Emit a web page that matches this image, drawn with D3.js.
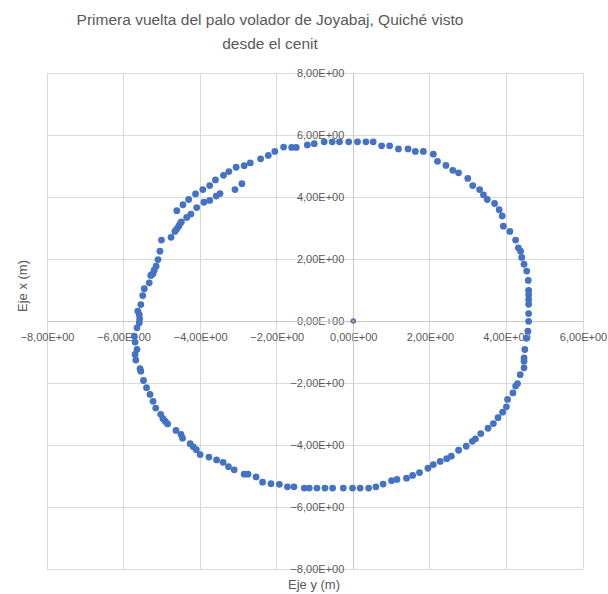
<!DOCTYPE html>
<html><head><meta charset="utf-8">
<script src="https://cdn.jsdelivr.net/npm/d3@7/dist/d3.min.js"></script>
<style>body{margin:0;background:#fff}svg{display:block}</style>
</head><body>
<script>
// Horizontal axis: "Eje y (m)"; vertical axis: "Eje x (m)"
const ejeY = [-5.27,-5.20,-5.15,-5.10,-5.05,-5.01,-4.76,-4.66,-4.61,-4.56,-4.52,-4.49,-4.35,-4.24,-4.09,-3.90,-3.75,-3.58,-3.48,-3.09,-2.91,
-4.61,-4.45,-4.30,-4.12,-3.93,-3.75,-3.60,-3.39,-3.25,-3.06,-2.85,-2.69,-2.42,-2.22,-2.05,-1.82,-1.61,-1.49,-1.20,-1.02,-0.76,-0.55,-0.36,-0.12,0.11,
0.33,0.52,0.74,0.95,1.18,1.43,1.62,1.83,2.09,2.20,2.42,2.60,2.75,2.99,3.12,3.30,3.40,3.50,3.69,3.81,3.89,3.92,4.09,4.24,4.31,4.37,4.40,4.46,4.53,4.57,4.58,4.58,4.58,4.58,4.58,4.58,
4.56,4.52,4.48,4.46,4.46,4.46,4.36,4.29,4.24,4.17,4.03,
4.00,3.90,3.78,3.66,3.52,3.33,3.19,3.11,2.95,2.75,2.56,2.44,2.27,2.09,1.95,1.73,1.55,1.39,1.14,1.00,0.78,0.59,0.40,0.18,-0.02,-0.26,
-0.54,-0.74,-0.95,-1.15,-1.28,-1.55,-1.72,-1.93,-2.15,-2.37,-2.54,-2.75,-2.85,-3.11,-3.26,-3.40,-3.57,-3.77,-4.00,-4.10,-4.18,-4.26,-4.46,-4.50,-4.63,-4.85,-4.91,-4.97,-5.03,-5.16,-5.23,
-5.31,-5.40,-5.48,-5.55,-5.57,-5.68,-5.70,-5.65,-5.70,-5.72,-5.65,-5.59,-5.58,-5.59,-5.63,-5.55,-5.50,-5.46,-5.33,-5.29,-5.23];
const ejeX = [1.49,1.64,1.77,1.98,2.25,2.61,2.70,2.89,2.97,3.06,3.15,3.20,3.34,3.45,3.66,3.83,3.89,4.03,4.11,4.24,4.43,
3.56,3.75,3.92,4.10,4.24,4.37,4.55,4.70,4.82,4.96,5.01,5.10,5.23,5.34,5.47,5.61,5.60,5.60,5.68,5.72,5.78,5.78,5.78,5.78,5.78,
5.78,5.78,5.65,5.65,5.55,5.55,5.47,5.47,5.38,5.15,5.02,4.86,4.78,4.60,4.37,4.24,4.07,3.92,3.79,3.59,3.39,3.06,2.89,2.61,2.36,2.25,2.05,1.83,1.61,1.31,0.99,0.85,0.69,0.54,0.24,-0.01,
-0.33,-0.56,-0.92,-1.19,-1.30,-1.51,-1.73,-2.02,-2.10,-2.32,-2.53,
-2.77,-2.94,-3.12,-3.31,-3.46,-3.63,-3.80,-3.88,-4.04,-4.17,-4.36,-4.44,-4.53,-4.63,-4.75,-4.89,-4.98,-5.07,-5.11,-5.15,-5.26,-5.35,-5.39,-5.39,-5.39,-5.39,
-5.39,-5.39,-5.39,-5.39,-5.39,-5.35,-5.35,-5.27,-5.25,-5.20,-5.03,-4.94,-4.94,-4.80,-4.70,-4.56,-4.48,-4.39,-4.31,-4.15,-4.06,-3.96,-3.78,-3.66,-3.53,-3.32,-3.24,-3.15,-3.01,-2.81,-2.59,
-2.37,-2.15,-1.92,-1.62,-1.54,-1.26,-1.08,-0.92,-0.68,-0.49,-0.22,-0.06,0.07,0.21,0.32,0.53,0.82,1.04,1.23,1.47,1.53];
const originX = [0];
const originY = [0];
const xTicks = [-8,-6,-4,-2,0,2,4,6];
const yTicks = [-8,-6,-4,-2,0,2,4,6,8];
const titleLines = ["Primera vuelta del palo volador de Joyabaj, Quiché visto","desde el cenit"];

const W=608,H=594;
const svg=d3.select("body").append("svg").attr("width",W).attr("height",H);
const x=d3.scaleLinear().domain([-8,6]).range([47,583]);
const y=d3.scaleLinear().domain([-8,8]).range([569,73]);
const fmt=v=>d3.format(".2f")(v).replace(".",",").replace("-0,00","0,00")+"E+00";
const grid="#d9d9d9", txt="#595959", font="'Liberation Sans', Arial, sans-serif";

// gridlines
svg.append("g").selectAll("line").data(xTicks).join("line")
  .attr("x1",d=>x(d)).attr("x2",d=>x(d)).attr("y1",y(8)).attr("y2",y(-8))
  .attr("stroke",grid).attr("stroke-width",1).attr("shape-rendering","crispEdges");
svg.append("g").selectAll("line").data(yTicks).join("line")
  .attr("y1",d=>y(d)).attr("y2",d=>y(d)).attr("x1",x(-8)).attr("x2",x(6))
  .attr("stroke",grid).attr("stroke-width",1).attr("shape-rendering","crispEdges");

// axes through origin
const xAxis=d3.axisBottom(x).tickValues(xTicks).tickFormat(fmt).tickSize(0).tickPadding(12);
const gx=svg.append("g").attr("transform",`translate(0,${y(0)})`).call(xAxis);
const yAxis=d3.axisLeft(y).tickValues(yTicks).tickFormat(fmt).tickSize(0).tickPadding(9);
const gy=svg.append("g").attr("transform",`translate(${x(0)},0)`).call(yAxis);
[gx,gy].forEach(g=>{
  g.select(".domain").remove();
  g.selectAll("text").attr("fill",txt).style("font-family",font).style("font-size","11px");
});
svg.append("line").attr("x1",x(0)).attr("x2",x(0)).attr("y1",y(8)).attr("y2",y(-8)).attr("stroke","#c8c8c8").attr("shape-rendering","crispEdges");
svg.append("line").attr("y1",y(0)).attr("y2",y(0)).attr("x1",x(-8)).attr("x2",x(6)).attr("stroke","#c8c8c8").attr("shape-rendering","crispEdges");

// points
svg.append("g").selectAll("circle").data(d3.zip(ejeY,ejeX)).join("circle")
  .attr("cx",d=>x(d[0])).attr("cy",d=>y(d[1])).attr("r",3.4).attr("fill","#4472C4");
const og=svg.append("g").selectAll("g").data(d3.zip(originX,originY)).join("g");
og.append("circle").attr("cx",d=>x(d[0])).attr("cy",d=>y(d[1])).attr("r",2.8).attr("fill","#4472C4");
og.append("circle").attr("cx",d=>x(d[0])).attr("cy",d=>y(d[1])).attr("r",1.3).attr("fill","#ED9A31");

// title
svg.append("text").attr("text-anchor","middle").attr("fill",txt).style("font-family",font).style("font-size","15.5px")
  .selectAll("tspan").data(titleLines).join("tspan").attr("x",270).attr("y",(d,i)=>25+i*24).text(d=>d);

// axis titles
svg.append("text").attr("x",314).attr("y",589).attr("text-anchor","middle").attr("fill",txt)
  .style("font-family",font).style("font-size","13px").text("Eje y (m)");
svg.append("text").attr("transform","translate(27,286) rotate(-90)").attr("text-anchor","middle").attr("fill",txt)
  .style("font-family",font).style("font-size","13px").text("Eje x (m)");
</script>
</body></html>
